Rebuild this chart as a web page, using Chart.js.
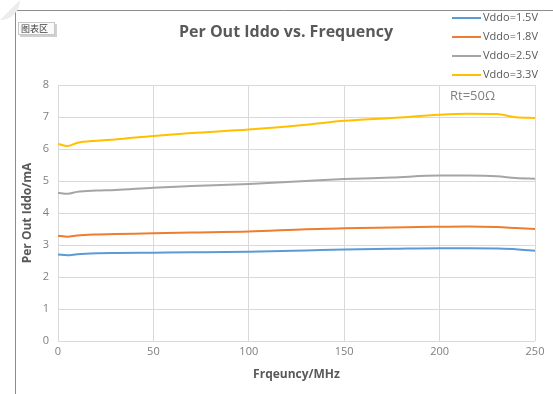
<!DOCTYPE html>
<html>
<head>
<meta charset="utf-8">
<script src="https://cdn.jsdelivr.net/npm/chart.js@4.4.1/dist/chart.umd.min.js"></script>
<style>
  html, body { margin: 0; padding: 0; background: #fff; }
  canvas { display: block; }
</style>
</head>
<body>
<canvas id="chart-line" width="553" height="394"></canvas>
<script>
// frequency points (MHz)
const freq = [0, 5, 10, 20, 30, 50, 70, 100, 130, 150, 175, 200, 215, 230, 240, 250];

const vddo15 = [2.70, 2.68, 2.71, 2.74, 2.75, 2.76, 2.77, 2.79, 2.83, 2.86, 2.88, 2.90, 2.90, 2.89, 2.87, 2.82];
const vddo18 = [3.29, 3.26, 3.30, 3.33, 3.34, 3.37, 3.39, 3.42, 3.49, 3.52, 3.55, 3.57, 3.58, 3.56, 3.53, 3.50];
const vddo25 = [4.63, 4.60, 4.66, 4.70, 4.72, 4.79, 4.84, 4.91, 5.00, 5.06, 5.11, 5.17, 5.17, 5.15, 5.09, 5.07];
const vddo33 = [6.16, 6.09, 6.19, 6.26, 6.30, 6.41, 6.50, 6.61, 6.76, 6.88, 6.97, 7.07, 7.10, 7.09, 6.99, 6.97];

const seriesNames = ['Vddo=1.5V', 'Vddo=1.8V', 'Vddo=2.5V', 'Vddo=3.3V'];
const seriesColors = ['#5b9bd5', '#ed7d31', '#a5a5a5', '#ffc000'];
const seriesValues = [vddo15, vddo18, vddo25, vddo33];

const font = "'Open Sans', 'Liberation Sans', sans-serif";

// frame, title, legend and note drawn on top of the chart
const decorations = {
    id: 'decorations',
    afterDraw(chart) {
        const ctx = chart.ctx;
        ctx.save();
        // outer frame
        ctx.strokeStyle = '#8c8c8c';
        ctx.lineWidth = 1;
        ctx.beginPath();
        ctx.moveTo(15.5, 394);
        ctx.lineTo(15.5, 10.5);
        ctx.lineTo(553, 10.5);
        ctx.stroke();

        // corner circle
        ctx.fillStyle = '#ececec';
        ctx.beginPath();
        ctx.arc(0, 0, 20, 0, Math.PI / 2);
        ctx.fill();

        // chart area tag
        ctx.fillStyle = '#d0d0d0';
        ctx.fillRect(20, 24, 37, 13);
        ctx.fillStyle = '#fbfbfb';
        ctx.fillRect(18, 22, 37, 13);
        ctx.strokeStyle = '#c8c8c8';
        ctx.strokeRect(18.5, 22.5, 36, 12);
        ctx.fillStyle = '#404040';
        ctx.font = "9px 'Noto Sans CJK SC'";
        ctx.textAlign = 'left';
        ctx.textBaseline = 'middle';
        ctx.fillText('图表区', 21, 29);

        // title
        ctx.fillStyle = '#595959';
        ctx.font = "bold 16px " + font;
        ctx.textAlign = 'center';
        ctx.fillText('Per Out Iddo vs. Frequency', 286, 32);

        // legend
        ctx.font = "11px " + font;
        ctx.textAlign = 'left';
        seriesNames.forEach((name, i) => {
            const y = 18 + i * 19;
            ctx.strokeStyle = seriesColors[i];
            ctx.lineWidth = 2;
            ctx.beginPath();
            ctx.moveTo(452, y);
            ctx.lineTo(481, y);
            ctx.stroke();
            ctx.fillStyle = '#595959';
            ctx.fillText(name, 483, y);
        });

        // note
        ctx.font = "13px " + font;
        ctx.fillStyle = '#7f7f7f';
        ctx.fillText('Rt=50\u03A9', 450, 96);
        ctx.restore();
    }
};

new Chart(
    document.getElementById('chart-line'),
    {
        type: 'line',
        data: {
            datasets: seriesNames.map((name, i) => ({
                label: name,
                data: freq.map((f, j) => ({ x: f, y: seriesValues[i][j] })),
                borderColor: seriesColors[i],
                backgroundColor: seriesColors[i],
                borderWidth: 2,
                pointRadius: 0,
                tension: 0.4,
                cubicInterpolationMode: 'monotone'
            }))
        },
        options: {
            responsive: false,
            animation: false,
            layout: { padding: { left: 20, right: 18, top: 85, bottom: 8 } },
            plugins: {
                legend: { display: false },
                tooltip: { enabled: false }
            },
            scales: {
                x: {
                    type: 'linear',
                    min: 0,
                    max: 250,
                    ticks: { stepSize: 50, color: '#7f7f7f', font: { size: 11, family: font }, padding: 4 },
                    grid: { color: '#d9d9d9', drawTicks: false },
                    border: { display: false },
                    title: { display: true, text: 'Frqeuncy/MHz', color: '#595959', font: { size: 12, weight: 'bold', family: font }, padding: { top: 8 } },
                    afterFit(scale) { scale.height = 45; }
                },
                y: {
                    min: 0,
                    max: 8,
                    ticks: { stepSize: 1, color: '#7f7f7f', font: { size: 11, family: font }, padding: 9 },
                    grid: { color: '#d9d9d9', drawTicks: false },
                    border: { display: false },
                    title: { display: true, text: 'Per Out Iddo/mA', color: '#595959', font: { size: 12, weight: 'bold', family: font }, padding: 0 },
                    afterFit(scale) { scale.width = 38; }
                }
            }
        },
        plugins: [decorations]
    }
);
</script>
</body>
</html>
